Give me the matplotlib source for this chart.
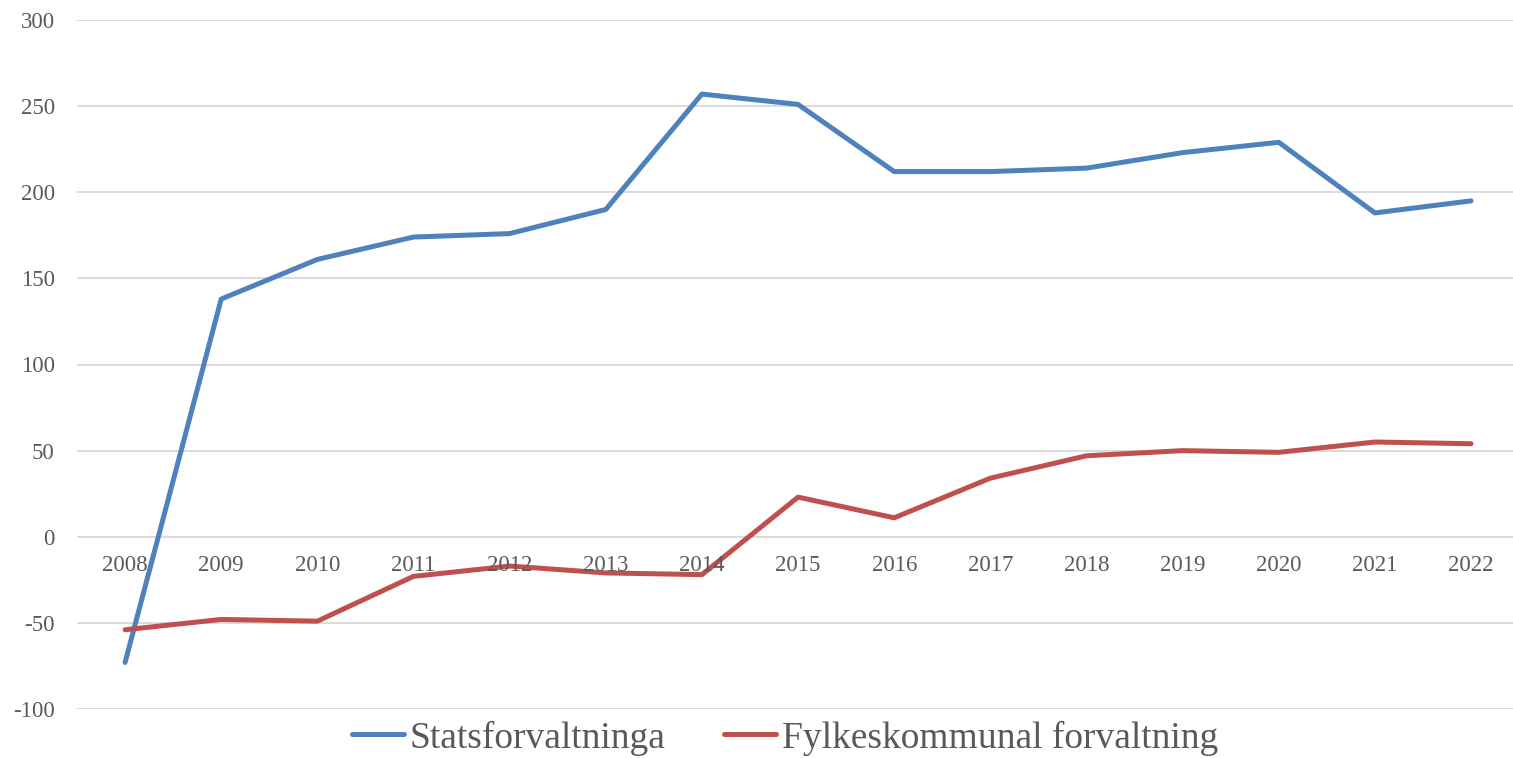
import matplotlib
matplotlib.use("Agg")
import matplotlib.pyplot as plt

years = [2008, 2009, 2010, 2011, 2012, 2013, 2014, 2015, 2016, 2017, 2018, 2019, 2020, 2021, 2022]
stats = [-73, 138, 161, 174, 176, 190, 257, 251, 212, 212, 214, 223, 229, 188, 195]
fylke = [-54, -48, -49, -23, -17, -21, -22, 23, 11, 34, 47, 50, 49, 55, 54]
yticks = [-100, -50, 0, 50, 100, 150, 200, 250, 300]

plt.rcParams['font.family'] = ['Liberation Serif', 'DejaVu Serif']

W, H = 1513, 758
fig = plt.figure(figsize=(W / 100, H / 100), dpi=100)
ax = fig.add_axes([77 / W, (H - 709) / H, (W - 77) / W, (709 - 20) / H])

ax.plot(years, stats, color='#4F81BD', lw=3.6, solid_capstyle='round', solid_joinstyle='round',
        label='Statsforvaltninga', zorder=3)
ax.plot(years, fylke, color='#C0504D', lw=3.6, solid_capstyle='round', solid_joinstyle='round',
        label='Fylkeskommunal forvaltning', zorder=3)

ax.set_xlim(2007.5, 2007.5 + (W - 77) / 96.14)
ax.set_ylim(-100, 300)
ax.set_yticks(yticks)
ax.set_yticklabels([str(v) for v in yticks], color='#595959', fontsize=16.5)
ax.tick_params(axis='y', length=0, pad=16)
ax.grid(axis='y', color='#D9D9D9', lw=1.3, zorder=0)
for s in ax.spines.values():
    s.set_visible(False)
ax.set_xticks([])

for yr in years:
    ax.annotate(str(yr), xy=(yr, 0), xycoords='data', xytext=(0, -21), textcoords='offset points',
                ha='center', va='center', fontsize=16.5, color='#595959')

handles, labels = ax.get_legend_handles_labels()
fig.legend(handles, labels, loc='center', bbox_to_anchor=(785 / W, 1 - 738 / H), ncol=2,
           frameon=False, fontsize=27, handlelength=1.4, handletextpad=0.15, columnspacing=1.55,
           labelcolor='#595959')

fig.savefig('out.png', dpi=100)
